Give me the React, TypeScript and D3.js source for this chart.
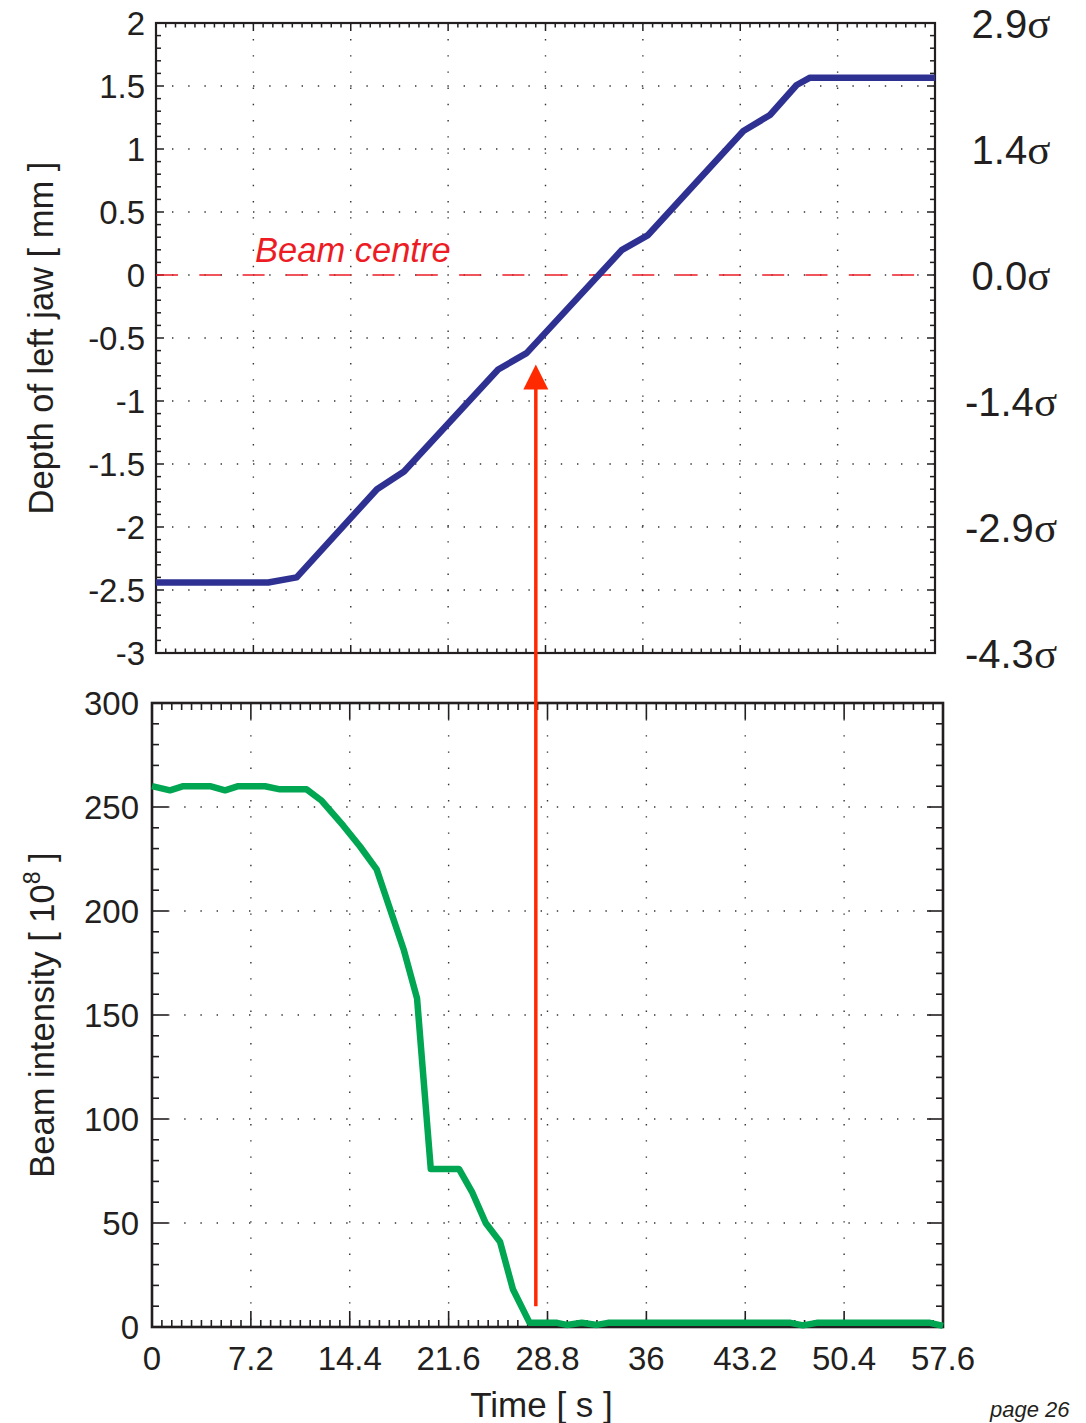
import React from "react";
import * as d3 from "d3";

// ---- Data ----
const jawTime = [0, 8.3, 10.4, 16.34, 18.34, 25.3, 27.4, 34.46, 36.38, 43.43, 45.4, 47.37, 48.36, 57.6];
const jawDepth = [-2.44, -2.44, -2.40, -1.70, -1.56, -0.75, -0.62, 0.2, 0.317, 1.143, 1.27, 1.508, 1.566, 1.566];

const beamTime = [0, 1.31, 2.28, 4.22, 5.32, 6.28, 8.23, 9.32, 11.26, 12.36, 13.93, 15.15, 16.36, 18.35, 19.3, 20.3, 22.35, 23.3, 24.3, 25.34, 26.29, 27.5, 29.5, 30.2, 31.3, 32.4, 33.2, 46.5, 47.4, 48.4, 56.65, 57.6];
const beamIntensity = [260, 258, 260, 260, 258, 260, 260, 258.5, 258.5, 253, 241, 231, 220, 181, 158, 76, 76, 65, 50, 41, 18, 2, 2, 1, 2, 1, 2, 2, 0.8, 2, 2, 0.5];

const timeTicks = [0, 7.2, 14.4, 21.6, 28.8, 36, 43.2, 50.4, 57.6];
const timeTickLabels = ["0", "7.2", "14.4", "21.6", "28.8", "36", "43.2", "50.4", "57.6"];
const depthTicks = [2, 1.5, 1, 0.5, 0, -0.5, -1, -1.5, -2, -2.5, -3];
const depthTickLabels = ["2", "1.5", "1", "0.5", "0", "-0.5", "-1", "-1.5", "-2", "-2.5", "-3"];
const sigmaTicks = [2, 1, 0, -1, -2, -3];
const sigmaLabels = ["2.9", "1.4", "0.0", "-1.4", "-2.9", "-4.3"];
const intensityTicks = [0, 50, 100, 150, 200, 250, 300];
const intensityTickLabels = ["0", "50", "100", "150", "200", "250", "300"];

const arrowTime = 27.95;
const arrowFromIntensity = 10;
const arrowToDepth = -0.71;
const beamCentreDepth = 0;

// ---- Styles ----
const INK = "#231f20";
const BLUE = "#2e3192";
const GREEN = "#00a651";
const ARROW = "#ff2a00";
const CENTRE = "#ed1c24";
const SANS = "'Liberation Sans', Arial, Helvetica, sans-serif";
const SERIF = "'Liberation Serif', 'Times New Roman', serif";

export default function App() {
  // Top panel scales
  const xT = d3.scaleLinear().domain([0, 57.6]).range([156, 935]);
  const yT = d3.scaleLinear().domain([-3, 2]).range([653, 23]);
  // Bottom panel scales
  const xB = d3.scaleLinear().domain([0, 57.6]).range([152, 943]);
  const yB = d3.scaleLinear().domain([0, 300]).range([1327, 703]);

  const jawLine = d3
    .line<number>()
    .x((_, i) => xT(jawTime[i]))
    .y((d) => yT(d))(jawDepth) as string;
  const beamLine = d3
    .line<number>()
    .x((_, i) => xB(beamTime[i]))
    .y((d) => yB(d))(beamIntensity) as string;

  const minorX = d3.range(0, 81).map((i) => ({ v: i * 0.72, major: i % 10 === 0 }));
  const minorDepth = d3.range(0, 51).map((i) => ({ v: -3 + i * 0.1, major: i % 5 === 0 }));
  const minorInt = d3.range(0, 31).map((i) => ({ v: i * 10, major: i % 5 === 0 }));

  const gridDash = { stroke: "#333", strokeWidth: 1.4, strokeDasharray: "1.4 14.8", strokeDashoffset: 0.2 };

  const [tL, tR] = xT.range();
  const [tB, tTop] = yT.range();
  const [bL, bR] = xB.range();
  const [bB, bTop] = yB.range();

  const ax = xB(arrowTime);
  const tipY = yT(arrowToDepth);
  const headLen = 25;
  const headHalf = 12.5;

  return (
    <svg
      width={1086}
      height={1423}
      style={{ position: "absolute", left: 0, top: 0, background: "#fff" }}
      fontFamily={SANS}
    >
      <rect x={0} y={0} width={1086} height={1423} fill="#fff" />

      {/* ===== Top panel ===== */}
      <g>
        {timeTicks.slice(1, -1).map((t) => (
          <line key={"tgv" + t} x1={xT(t)} x2={xT(t)} y1={tTop} y2={tB} {...gridDash} />
        ))}
        {depthTicks.slice(1, -1).map((d) => (
          <line key={"tgh" + d} x1={tL} x2={tR} y1={yT(d)} y2={yT(d)} {...gridDash} />
        ))}
        {minorX.map(({ v, major }) => {
          const L = major ? 8 : 4.5;
          return (
            <g key={"ttx" + v} stroke={INK} strokeWidth={1.5}>
              <line x1={xT(v)} x2={xT(v)} y1={tB} y2={tB - L} />
              <line x1={xT(v)} x2={xT(v)} y1={tTop} y2={tTop + L} />
            </g>
          );
        })}
        {minorDepth.map(({ v, major }) => {
          const L = major ? 8 : 5;
          return (
            <g key={"tty" + v} stroke={INK} strokeWidth={1.5}>
              <line x1={tL} x2={tL + L} y1={yT(v)} y2={yT(v)} />
              <line x1={tR} x2={tR - L} y1={yT(v)} y2={yT(v)} />
            </g>
          );
        })}
        <rect x={tL} y={tTop} width={tR - tL} height={tB - tTop} fill="none" stroke={INK} strokeWidth={2.2} />
        {depthTicks.map((d, i) => (
          <text key={"tl" + d} x={145} y={yT(d) + 11.8} textAnchor="end" fontSize={33} fill={INK}>
            {depthTickLabels[i]}
          </text>
        ))}
        {sigmaTicks.map((d, i) => (
          <text key={"sl" + d} x={1011} y={yT(d) + 14.5} textAnchor="middle" fontSize={40} fill={INK}>
            {sigmaLabels[i]}
            <tspan fontFamily={SERIF} fontSize={43}>σ</tspan>
          </text>
        ))}
        <text
          transform={`translate(53, ${(tTop + tB) / 2}) rotate(-90)`}
          textAnchor="middle"
          fontSize={34.5}
          fill={INK}
        >
          Depth of left jaw [ mm ]
        </text>
        <line
          x1={tL}
          x2={tR}
          y1={yT(beamCentreDepth)}
          y2={yT(beamCentreDepth)}
          stroke={CENTRE}
          strokeWidth={1.6}
          strokeDasharray="22 21.3"
        />
        <text x={255} y={262} fontSize={34.5} fontStyle="italic" fill={CENTRE}>
          Beam centre
        </text>
        <path d={jawLine} fill="none" stroke={BLUE} strokeWidth={6.5} strokeLinejoin="round" />
      </g>

      {/* ===== Bottom panel ===== */}
      <g>
        {timeTicks.slice(1, -1).map((t) => (
          <line key={"bgv" + t} x1={xB(t)} x2={xB(t)} y1={bTop} y2={bB} {...gridDash} />
        ))}
        {intensityTicks.slice(1, -1).map((d) => (
          <line key={"bgh" + d} x1={bL} x2={bR} y1={yB(d)} y2={yB(d)} {...gridDash} />
        ))}
        {minorX.map(({ v, major }) => {
          const L = major ? 16 : 7;
          return (
            <g key={"btx" + v} stroke={INK} strokeWidth={1.6}>
              <line x1={xB(v)} x2={xB(v)} y1={bB} y2={bB - L} />
              <line x1={xB(v)} x2={xB(v)} y1={bTop} y2={bTop + L} />
            </g>
          );
        })}
        {minorInt.map(({ v, major }) => {
          const L = major ? 16 : 7;
          return (
            <g key={"bty" + v} stroke={INK} strokeWidth={1.6}>
              <line x1={bL} x2={bL + L} y1={yB(v)} y2={yB(v)} />
              <line x1={bR} x2={bR - L} y1={yB(v)} y2={yB(v)} />
            </g>
          );
        })}
        <rect x={bL} y={bTop} width={bR - bL} height={bB - bTop} fill="none" stroke={INK} strokeWidth={2.6} />
        {intensityTicks.map((d, i) => (
          <text key={"bl" + d} x={139} y={yB(d) + 11.8} textAnchor="end" fontSize={33} fill={INK}>
            {intensityTickLabels[i]}
          </text>
        ))}
        {timeTicks.map((t, i) => (
          <text key={"bx" + t} x={xB(t)} y={1370} textAnchor="middle" fontSize={33} fill={INK}>
            {timeTickLabels[i]}
          </text>
        ))}
        <text x={(bL + bR) / 2 - 6} y={1417} textAnchor="middle" fontSize={35} fill={INK}>
          Time [ s ]
        </text>
        <text
          transform={`translate(54, ${(bTop + bB) / 2}) rotate(-90)`}
          textAnchor="middle"
          fontSize={34.5}
          fill={INK}
        >
          Beam intensity [ 10
          <tspan fontSize={23} dy={-14}>8</tspan>
          <tspan dy={14}> ]</tspan>
        </text>
        <path d={beamLine} fill="none" stroke={GREEN} strokeWidth={6.5} strokeLinejoin="round" />
      </g>

      {/* ===== Arrow ===== */}
      <line x1={ax} x2={ax} y1={yB(arrowFromIntensity)} y2={tipY + headLen - 1} stroke={ARROW} strokeWidth={3.5} />
      <path
        d={`M${ax},${tipY} L${ax - headHalf},${tipY + headLen} L${ax + headHalf},${tipY + headLen} Z`}
        fill={ARROW}
      />

      <text x={990} y={1417} fontSize={22} fontStyle="italic" fill={INK}>
        page 26
      </text>
    </svg>
  );
}
